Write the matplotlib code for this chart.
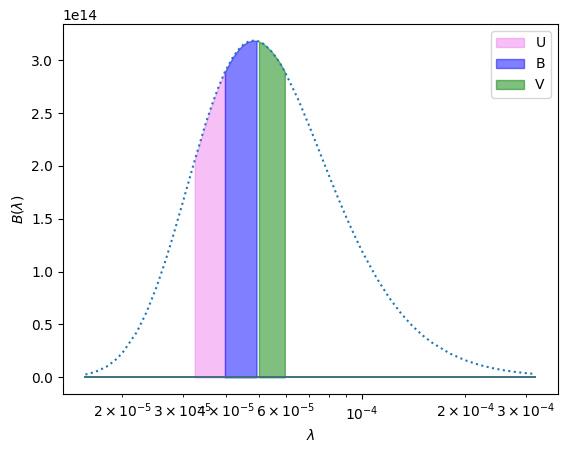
import numpy as np
from matplotlib import pyplot as plt
from matplotlib.ticker import LogFormatterSciNotation

# wavelength in cm
lam = [1.56e-5, 1.6e-5, 1.7e-5, 1.8e-5, 1.9e-5, 2.0e-5, 2.2e-5, 2.35e-5, 2.5e-5,
       2.65e-5, 2.8e-5, 3.0e-5, 3.2e-5, 3.25e-5, 3.5e-5, 3.65e-5, 3.8e-5, 3.98e-5,
       4.2e-5, 4.35e-5, 4.5e-5, 4.65e-5, 4.8e-5, 4.92e-5, 5.0e-5, 5.15e-5, 5.3e-5,
       5.45e-5, 5.6e-5, 5.75e-5, 5.95e-5, 6.5e-5, 7.0e-5, 7.5e-5, 8.0e-5, 8.5e-5,
       9.0e-5, 9.5e-5, 1.0e-4, 1.1e-4, 1.2e-4, 1.3e-4, 1.4e-4, 1.5e-4, 1.6e-4,
       1.8e-4, 2.0e-4, 2.2e-4, 2.4e-4, 2.6e-4, 2.8e-4, 3.0e-4, 3.2e-4]
# B(lambda) in units of 1e14
B = [0.027, 0.035, 0.063, 0.103, 0.159, 0.231, 0.426, 0.615, 0.833,
     1.071, 1.320, 1.657, 1.977, 2.053, 2.405, 2.580, 2.735, 2.891,
     3.029, 3.097, 3.146, 3.174, 3.184, 3.183, 3.176, 3.155, 3.119,
     3.079, 3.029, 2.975, 2.890, 2.632, 2.382, 2.139, 1.909, 1.699,
     1.510, 1.341, 1.191, 0.943, 0.751, 0.602, 0.487, 0.397, 0.327,
     0.226, 0.161, 0.117, 0.087, 0.066, 0.051, 0.040, 0.032]

bands = ['U', 'B', 'V']
band_lo = [3.25e-5, 3.98e-5, 5.0e-5]
band_hi = [3.98e-5, 4.92e-5, 5.95e-5]
band_colors = ['violet', 'blue', 'green']

lam = np.array(lam)
B = np.array(B) * 1e14

fig = plt.figure(figsize=(5.67, 4.5), dpi=100)
ax = fig.add_subplot(111)
fig.subplots_adjust(left=0.111, right=0.984, bottom=0.124, top=0.947)

ax.plot(lam, B, ':')
ax.plot(lam, np.zeros_like(lam), color='#3e707d', lw=1.4)

for name, lo, hi, c in zip(bands, band_lo, band_hi, band_colors):
    m = (lam >= lo) & (lam <= hi)
    ax.fill_between(lam[m], B[m], color=c, alpha=0.5, label=name)

ax.set_xscale('log')
# label a subset of the minor ticks (2, 3, 4, 6 per decade)
ax.xaxis.set_minor_formatter(LogFormatterSciNotation(labelOnlyBase=False,
                                                     minor_thresholds=(2, 0.4)))
ax.set_xlabel(r'$\lambda$')
ax.set_ylabel(r'$B(\lambda)$')
ax.legend(loc='upper right')

fig.savefig('out.png')
